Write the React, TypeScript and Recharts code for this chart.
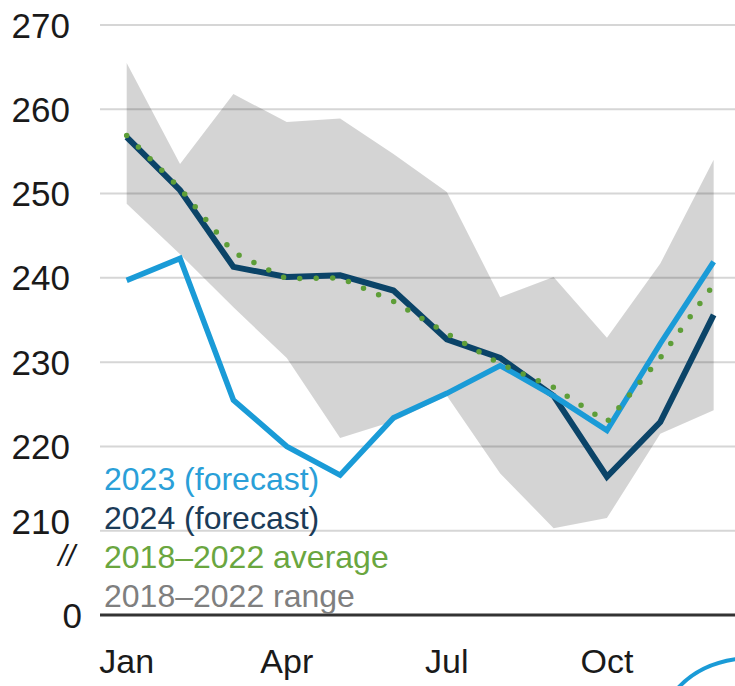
import React from 'react';
import { ComposedChart, Area, Line, XAxis, YAxis, CartesianGrid } from 'recharts';

const months = ['Jan', 'Feb', 'Mar', 'Apr', 'May', 'Jun', 'Jul', 'Aug', 'Sep', 'Oct', 'Nov', 'Dec'];
const forecast2023 = [239.7, 242.3, 225.5, 220.0, 216.6, 223.4, 226.3, 229.6, 226.0, 221.9, 232.2, 241.9];
const forecast2024 = [256.7, 250.4, 241.3, 240.1, 240.3, 238.5, 232.7, 230.5, 226.0, 216.4, 222.9, 235.6];
const average1822 = [256.9, 250.6, 243.0, 239.9, 240.0, 237.2, 233.4, 229.8, 227.0, 222.9, 230.5, 239.2];
const rangeLow = [248.8, 242.8, 236.5, 230.5, 221.0, 223.0, 226.0, 216.8, 210.3, 211.5, 221.5, 224.3];
const rangeHigh = [265.5, 253.5, 261.8, 258.5, 258.9, 254.7, 250.2, 237.7, 240.1, 232.9, 241.7, 254.0];
const xTicks = [0, 3, 6, 9];
const yTicks = [200, 210, 220, 230, 240, 250, 260, 270];
const yTickLabels: Record<number, string> = { 200: '0', 210: '210', 220: '220', 230: '230', 240: '240', 250: '250', 260: '260', 270: '270' };

const legendItems = [
  { label: '2023 (forecast)', color: '#2a9fd8' },
  { label: '2024 (forecast)', color: '#1b3b58' },
  { label: '2018\u20132022 average', color: '#6aa63f' },
  { label: '2018\u20132022 range', color: '#7f7f7f' },
];

const data = months.map((m, i) => ({
  x: i,
  month: m,
  f2023: forecast2023[i],
  f2024: forecast2024[i],
  avg: average1822[i],
  range: [rangeLow[i], rangeHigh[i]],
}));

const FONT = '"Liberation Sans", Arial, sans-serif';

const YTick = (props: any) => {
  const { y, payload } = props;
  const v = payload.value;
  const isZero = v === 200;
  const dy = v === 210 ? -9 : 0;
  return (
    <text
      x={isZero ? 82 : 70}
      y={y + dy}
      dy="0.36em"
      textAnchor="end"
      fontFamily={FONT}
      fontSize={35}
      fill="#1a1a1a"
    >
      {yTickLabels[v]}
    </text>
  );
};

const XTick = (props: any) => {
  const { x, payload } = props;
  return (
    <text x={x} y={661} dy="0.36em" textAnchor="middle" fontFamily={FONT} fontSize={34} fill="#1a1a1a">
      {months[payload.value]}
    </text>
  );
};

export default function App() {
  return (
    <div style={{ position: 'absolute', left: 0, top: 0, width: 735, height: 686, background: '#fff' }}>
      <ComposedChart
        width={735}
        height={686}
        data={data}
        margin={{ top: 25, right: 0, bottom: 0, left: 0 }}
      >
        <CartesianGrid vertical={false} stroke="#d6d6d6" strokeWidth={2} />
        <XAxis
          type="number"
          dataKey="x"
          domain={[-0.5, 11.4]}
          ticks={xTicks}
          interval={0}
          height={71}
          tick={<XTick />}
          tickLine={false}
          axisLine={{ stroke: '#333', strokeWidth: 3 }}
          allowDataOverflow
        />
        <YAxis
          type="number"
          domain={[200, 270]}
          ticks={yTicks}
          interval={0}
          width={100}
          tick={<YTick />}
          tickLine={false}
          axisLine={false}
          allowDataOverflow
        />
        <Area
          type="linear"
          dataKey="range"
          fill="#000000"
          fillOpacity={0.17}
          stroke="none"
          isAnimationActive={false}
          activeDot={false}
        />
        <Line type="linear" dataKey="f2024" stroke="#0b4468" strokeWidth={6} dot={false} activeDot={false} isAnimationActive={false} />
        <Line type="linear" dataKey="f2023" stroke="#1a9bd7" strokeWidth={5.5} dot={false} activeDot={false} isAnimationActive={false} />
        <Line
          type="linear"
          dataKey="avg"
          stroke="#5e9e38"
          strokeWidth={5.5}
          strokeDasharray="0 16.5"
          strokeLinecap="round"
          dot={false}
          activeDot={false}
          isAnimationActive={false}
        />
      </ComposedChart>
      <svg
        width={735}
        height={686}
        style={{ position: 'absolute', left: 0, top: 0, pointerEvents: 'none' }}
      >
        {legendItems.map((it, i) => (
          <text
            key={it.label}
            x={104}
            y={490 + i * 39}
            fontFamily={FONT}
            fontSize={32}
            fill={it.color}
          >
            {it.label}
          </text>
        ))}
        <text x={75} y={566} textAnchor="end" fontFamily={FONT} fontSize={30} fontStyle="italic" fill="#1a1a1a">
          //
        </text>
        <path d="M 678 688 Q 700 664 737 659" stroke="#1a9bd7" strokeWidth={4} fill="none" />
      </svg>
    </div>
  );
}
